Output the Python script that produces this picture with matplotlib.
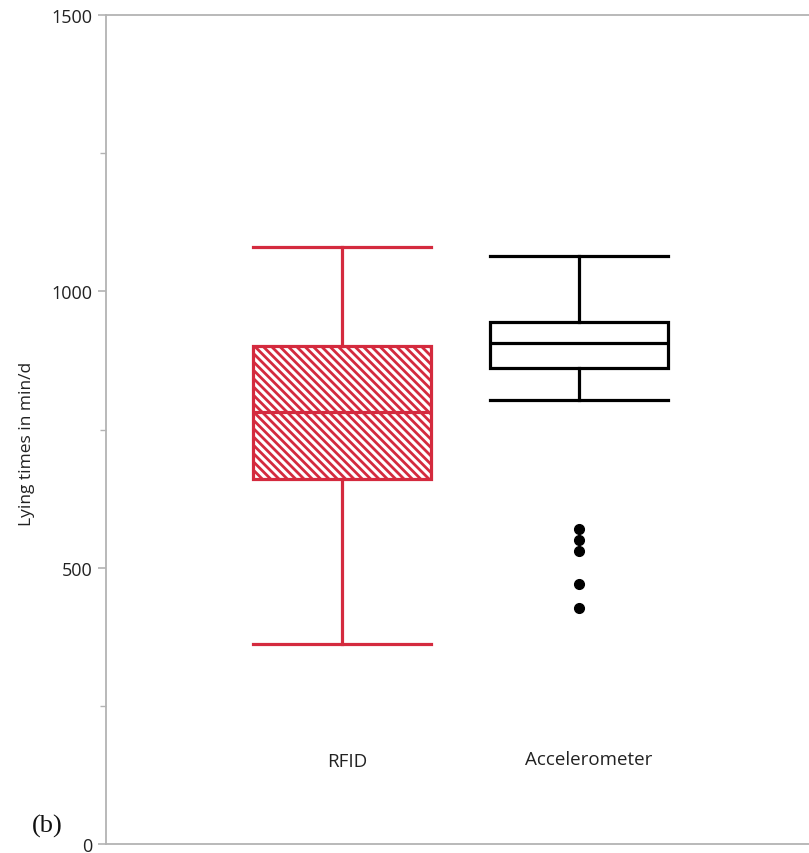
import matplotlib
matplotlib.use("Agg")
import matplotlib.pyplot as plt

groups = ["RFID", "Accelerometer"]
whisker_low = [362, 803]
q1 = [660, 861]
median = [782, 906]
q3 = [901, 944]
whisker_high = [1080, 1064]
acc_outliers = [570, 550, 530, 470, 427]
outliers = [[], acc_outliers]

plt.rcParams['font.family'] = ['Open Sans', 'DejaVu Sans']
plt.rcParams['hatch.linewidth'] = 2.0
plt.rcParams['hatch.color'] = '#e04a5c'

fig = plt.figure(figsize=(8.09, 8.54), dpi=100)
ax = fig.add_axes([106/809, 9/854, 1 - 106/809, (845-16)/854])

stats = []
for i, g in enumerate(groups):
    stats.append(dict(label=g, whislo=whisker_low[i], q1=q1[i], med=median[i],
                      q3=q3[i], whishi=whisker_high[i], fliers=outliers[i]))

positions = [1, 2]
red = '#d42a3e'
colors = [red, 'black']
for i, s in enumerate(stats):
    c = colors[i]
    ax.bxp([s], positions=[positions[i]], widths=0.75, patch_artist=True,
           showfliers=True,
           boxprops=dict(facecolor='white', edgecolor=c, linewidth=2.3,
                         hatch='\\\\\\\\' if i == 0 else None),
           medianprops=dict(color=c, linewidth=2.3),
           whiskerprops=dict(color=c, linewidth=2.3),
           capprops=dict(color=c, linewidth=2.3),
           capwidths=0.75,
           flierprops=dict(marker='o', markerfacecolor='black',
                           markeredgecolor='black', markersize=7))

ax.set_xlim(0.004, 2.97)
ax.set_ylim(0, 1500)
ax.set_yticks([0, 500, 1000, 1500])
ax.set_yticks([250, 750, 1250], minor=True)
ax.set_xticks([])

label_y = [150, 154]
label_dx = [0.02, 0.04]
for i, g in enumerate(groups):
    ax.text(positions[i] + label_dx[i], label_y[i], g, ha='center', va='center',
            fontsize=13.5, color='#222222')

gray = '#b3b3b3'
ax.spines['right'].set_visible(False)
for sp in ['left', 'top', 'bottom']:
    ax.spines[sp].set_color(gray)
    ax.spines[sp].set_linewidth(1.3)
ax.tick_params(axis='y', which='major', length=6, color=gray, width=1.2,
               labelsize=13, labelcolor='#222222', pad=4)
ax.tick_params(axis='y', which='minor', length=4, color=gray, width=1.0)

ax.set_ylabel('Lying times in min/d', fontsize=12.5, color='#222222')
ax.yaxis.set_label_coords(-0.101, 0.484)

fig.text(47/809, 1 - 826/854, '(b)', fontsize=19, family='Liberation Serif',
         ha='center', va='center', color='#111111')

fig.savefig('out.png', dpi=100)
